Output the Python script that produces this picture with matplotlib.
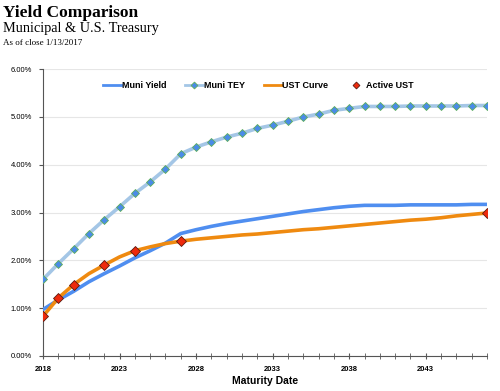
import matplotlib
matplotlib.use("Agg")
import matplotlib.pyplot as plt
from matplotlib.ticker import FuncFormatter, MultipleLocator, FixedLocator

plt.rcParams["font.family"] = ["Liberation Sans", "DejaVu Sans"]

years = list(range(2018, 2048))

muni_yield = [0.97, 1.17, 1.35, 1.55, 1.72, 1.88, 2.05, 2.20, 2.36, 2.56,
              2.64, 2.71, 2.77, 2.82, 2.87, 2.92, 2.97, 3.02, 3.06, 3.10,
              3.13, 3.15, 3.15, 3.15, 3.16, 3.16, 3.16, 3.16, 3.17, 3.17]

muni_tey = [1.60, 1.93, 2.24, 2.56, 2.85, 3.12, 3.40, 3.64, 3.91, 4.23,
            4.37, 4.48, 4.58, 4.66, 4.76, 4.83, 4.91, 5.00, 5.06, 5.14,
            5.18, 5.22, 5.22, 5.22, 5.23, 5.23, 5.23, 5.23, 5.24, 5.24]

ust_curve = [0.83, 1.21, 1.49, 1.72, 1.90, 2.07, 2.20, 2.28, 2.35, 2.40,
             2.44, 2.47, 2.50, 2.53, 2.55, 2.58, 2.61, 2.64, 2.66, 2.69,
             2.72, 2.75, 2.78, 2.81, 2.84, 2.86, 2.89, 2.93, 2.96, 2.99]

active_years = [2018, 2019, 2020, 2022, 2024, 2027, 2047]
active_ust = [0.83, 1.21, 1.49, 1.90, 2.20, 2.40, 2.99]

year_ticks = [2018, 2023, 2028, 2033, 2038, 2043]

fig = plt.figure(figsize=(5.0, 3.91), dpi=100)
ax = fig.add_axes([0.086, 0.09, 0.888, 0.733])

ax.plot(years, muni_yield, color="#4f8ef0", lw=2.6, label="Muni Yield", zorder=3)
ax.plot(years, muni_tey, color="#a4c6e6", lw=2.6, marker="D", ms=4.5,
        mfc="#4a8be8", mec="#5fae5a", mew=0.6, label="Muni TEY", zorder=3)
ax.plot(years, ust_curve, color="#ef8a10", lw=2.6, label="UST Curve", zorder=3)
ax.plot(active_years, active_ust, ls="none", marker="D", ms=5.5,
        mfc="#ee2a0c", mec="#5a1a10", mew=0.6, label="Active UST", zorder=4)

ax.set_xlim(2018, 2047)
ax.set_ylim(0, 6)
ax.xaxis.set_major_locator(FixedLocator(year_ticks))
ax.xaxis.set_minor_locator(MultipleLocator(1))
ax.yaxis.set_major_locator(MultipleLocator(1))
ax.yaxis.set_major_formatter(FuncFormatter(lambda v, _: f"{v:.2f}%"))
ax.grid(axis="y", color="#e6e6e6", lw=0.8)
ax.set_axisbelow(True)
for s in ["top", "right"]:
    ax.spines[s].set_visible(False)
for s in ["left", "bottom"]:
    ax.spines[s].set_color("#555555")
ax.tick_params(axis="x", which="both", direction="inout", length=5, color="#555555",
               labelsize=5.5, pad=5)
ax.tick_params(axis="y", direction="out", length=3, color="#555555", labelsize=5.5, pad=5)
for lab in ax.get_xticklabels():
    lab.set_fontweight("bold")
ax.set_xlabel("Maturity Date", fontsize=7.5, fontweight="bold", labelpad=2)

leg = ax.legend(loc="upper left", bbox_to_anchor=(0.128, 0.972), ncol=4, frameon=False,
                handlelength=2.0, columnspacing=2.1, handletextpad=0.05,
                borderaxespad=0, prop={"size": 6.5, "weight": "bold"})
for ln in leg.get_lines():
    ln.set_linewidth(2.0)
    ln.set_markersize(3.5)

fig.text(0.006, 0.988, "Yield Comparison", fontsize=12.5, fontweight="bold",
         family="Liberation Serif", va="top")
fig.text(0.006, 0.943, "Municipal & U.S. Treasury", fontsize=10.3,
         family="Liberation Serif", va="top")
fig.text(0.006, 0.9, "As of close 1/13/2017", fontsize=6.5,
         family="Liberation Serif", va="top")

fig.savefig("out.png", dpi=100)
